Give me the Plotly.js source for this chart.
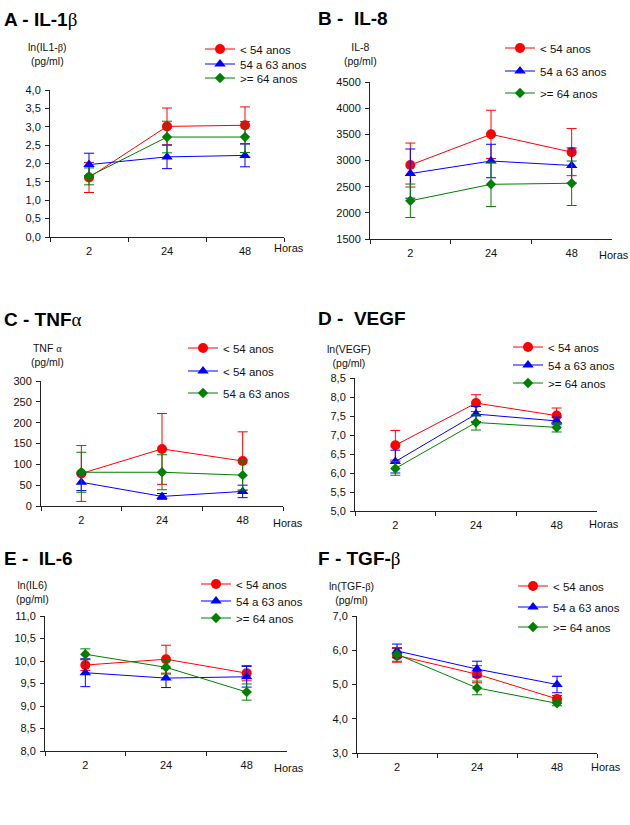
<!DOCTYPE html>
<html><head><meta charset="utf-8">
<script src="https://cdn.plot.ly/plotly-3.0.1.min.js"></script>
<style>html,body{margin:0;padding:0;background:#fff}#chart{width:630px;height:825px}</style>
</head><body><div id="chart"></div>
<script>
// ---------- data ----------
const hours = ['2', '24', '48'];
const groupNames = ['&lt; 54 anos', '54 a 63 anos', '&gt;= 64 anos'];
const groupNamesTNF = ['&lt; 54 anos', '&lt; 54 anos', '54 a 63 anos'];

// A - IL-1β  ln(pg/ml)
const il1b_g1 = [1.62, 3.01, 3.04];
const il1b_g1_err = [0.41, 0.50, 0.50];
const il1b_g2 = [1.97, 2.18, 2.22];
const il1b_g2_err = [0.31, 0.32, 0.31];
const il1b_g3 = [1.65, 2.72, 2.72];
const il1b_g3_err = [0.23, 0.43, 0.42];

// B - IL-8  pg/ml
const il8_g1 = [2913, 3500, 3160];
const il8_g1_err = [420, 460, 450];
const il8_g2 = [2750, 2990, 2905];
const il8_g2_err = [470, 320, 335];
const il8_g3 = [2230, 2545, 2565];
const il8_g3_err = [320, 425, 425];

// C - TNFα  pg/ml
const tnf_g1 = [78, 137, 108];
const tnf_g1_err = [67, 85, 70];
const tnf_g2 = [57, 23, 35];
const tnf_g2_err = [20, 7, 15];
const tnf_g3 = [81, 81, 74];
const tnf_g3_err = [48, 42, 36];

// D - VEGF  ln(pg/ml)
const vegf_g1 = [6.73, 7.84, 7.51];
const vegf_g1_err = [0.39, 0.22, 0.20];
const vegf_g2 = [6.30, 7.55, 7.37];
const vegf_g2_err = [0.30, 0.20, 0.10];
const vegf_g3 = [6.12, 7.33, 7.20];
const vegf_g3_err = [0.18, 0.20, 0.12];

// E - IL-6  ln(pg/ml)
const il6_g1 = [9.91, 10.04, 9.73];
const il6_g1_err = [0.12, 0.31, 0.17];
const il6_g2 = [9.74, 9.62, 9.65];
const il6_g2_err = [0.31, 0.21, 0.23];
const il6_g3 = [10.15, 9.86, 9.31];
const il6_g3_err = [0.12, 0.15, 0.18];

// F - TGF-β  ln(pg/ml)
const tgf_g1 = [5.85, 5.30, 4.58];
const tgf_g1_err = [0.20, 0.25, 0.10];
const tgf_g2 = [5.98, 5.45, 5.00];
const tgf_g2_err = [0.20, 0.23, 0.24];
const tgf_g3 = [5.88, 4.90, 4.45];
const tgf_g3_err = [0.20, 0.20, 0.07];

// ---------- styling / layout ----------
const W = 630, H = 825;
const FONT = 'Liberation Sans, Arial, sans-serif';
const colors = ['#ff0000', '#0000ff', '#008000'];
const symbols = ['circle', 'triangle-up', 'diamond'];
const msizes = [10, 10, 8];
const px = x => x / W;
const py = y => 1 - y / H;
const beta = '<span style="font-family:Liberation Serif;font-weight:normal">β</span>';
const alpha = '<span style="font-family:Liberation Serif;font-weight:normal">α</span>';

const panels = [
  {title: '<b>A - IL-1</b>' + beta, tpos: [2, 19], ylab: 'ln(IL1-' + beta + ')<br>(pg/ml)', ypos: [47, 54.5],
   xd: [50, 284], yd: [90, 237], range: [0, 4], dtick: 0.5, fmt: '.1f', horas: [272, 248],
   series: [[il1b_g1, il1b_g1_err], [il1b_g2, il1b_g2_err], [il1b_g3, il1b_g3_err]], names: groupNames,
   lx: 205, rows: [49, 64, 78]},
  {title: '<b>B -  IL-8</b>', tpos: [316, 18], ylab: 'IL-8<br>(pg/ml)', ypos: [360, 54],
   xd: [370, 612], yd: [82, 239], range: [1500, 4500], dtick: 500, fmt: 'd', horas: [597, 255],
   series: [[il8_g1, il8_g1_err], [il8_g2, il8_g2_err], [il8_g3, il8_g3_err]], names: groupNames,
   lx: 505, rows: [48, 71, 93]},
  {title: '<b>C - TNF</b>' + alpha, tpos: [2, 319], ylab: 'TNF ' + alpha + '<br>(pg/ml)', ypos: [47, 355],
   xd: [41, 283], yd: [381, 506], range: [0, 300], dtick: 50, fmt: 'd', horas: [271, 523],
   series: [[tnf_g1, tnf_g1_err], [tnf_g2, tnf_g2_err], [tnf_g3, tnf_g3_err]], names: groupNamesTNF,
   lx: 188, rows: [348, 371, 393]},
  {title: '<b>D -  VEGF</b>', tpos: [316, 318], ylab: 'ln(VEGF)<br>(pg/ml)', ypos: [349, 356],
   xd: [355, 597], yd: [378, 511], range: [5, 8.5], dtick: 0.5, fmt: '.1f', horas: [587, 524],
   series: [[vegf_g1, vegf_g1_err], [vegf_g2, vegf_g2_err], [vegf_g3, vegf_g3_err]], names: groupNames,
   lx: 513, rows: [347, 365, 383]},
  {title: '<b>E -  IL-6</b>', tpos: [2, 558], ylab: 'ln(IL6)<br>(pg/ml)', ypos: [32, 592],
   xd: [45, 287], yd: [616, 751], range: [8, 11], dtick: 0.5, fmt: '.1f', horas: [272, 768],
   series: [[il6_g1, il6_g1_err], [il6_g2, il6_g2_err], [il6_g3, il6_g3_err]], names: groupNames,
   lx: 201, rows: [584, 601, 618]},
  {title: '<b>F - TGF-</b>' + beta, tpos: [316, 558], ylab: 'ln(TGF-' + beta + ')<br>(pg/ml)', ypos: [351, 593],
   xd: [357, 597], yd: [616, 753], range: [3, 7], dtick: 1, fmt: '.1f', horas: [589, 767],
   series: [[tgf_g1, tgf_g1_err], [tgf_g2, tgf_g2_err], [tgf_g3, tgf_g3_err]], names: groupNames,
   lx: 518, rows: [586, 607, 627]}
];

const traces = [];
const layout = {
  width: W, height: H, margin: {l: 0, r: 0, t: 0, b: 0},
  paper_bgcolor: '#fff', plot_bgcolor: 'rgba(0,0,0,0)',
  font: {family: FONT, size: 11, color: '#111'},
  separators: ', ',
  showlegend: true,
  annotations: []
};

let legIdx = 0;
panels.forEach((p, i) => {
  const n = i + 1;
  const xa = n === 1 ? 'xaxis' : 'xaxis' + n;
  const ya = n === 1 ? 'yaxis' : 'yaxis' + n;
  const xr = n === 1 ? 'x' : 'x' + n;
  const yr = n === 1 ? 'y' : 'y' + n;
  layout[xa] = {
    domain: [px(p.xd[0]), px(p.xd[1])], anchor: yr, type: 'category',
    range: [-0.5, 2.5], tickson: 'boundaries', ticks: 'outside', ticklen: 4,
    ticklabelstandoff: 4,
    tickcolor: '#222', showline: true, linecolor: '#222', linewidth: 1,
    showgrid: false, zeroline: false, tickfont: {size: 11, color: '#111'}, fixedrange: true
  };
  layout[ya] = {
    domain: [py(p.yd[1]), py(p.yd[0])], anchor: xr, range: p.range, dtick: p.dtick,
    tickformat: p.fmt, ticks: 'outside', ticklen: 4, tickcolor: '#222', ticklabelstandoff: 2,
    showline: true, linecolor: '#222', linewidth: 1, showgrid: false, zeroline: false,
    tickfont: {size: 11, color: '#111'}, fixedrange: true
  };
  p.series.forEach((s, k) => {
    legIdx++;
    const lid = legIdx === 1 ? 'legend' : 'legend' + legIdx;
    layout[lid] = {
      x: px(p.lx - 5), y: py(p.rows[k]), xanchor: 'left', yanchor: 'middle',
      bgcolor: 'rgba(0,0,0,0)', borderwidth: 0, font: {size: 11.5, family: FONT, color: '#111'}
    };
    traces.push({
      type: 'scatter', mode: 'lines+markers', x: hours, y: s[0],
      xaxis: xr, yaxis: yr, name: p.names[k], legend: lid,
      line: {color: colors[k], width: 1},
      marker: {color: colors[k], symbol: symbols[k], size: msizes[k]},
      error_y: {type: 'data', array: s[1], visible: true, color: colors[k], thickness: 1, width: 5}
    });
  });
  layout.annotations.push(
    {xref: 'paper', yref: 'paper', x: px(p.tpos[0]), y: py(p.tpos[1]), xanchor: 'left', yanchor: 'middle',
     text: p.title, showarrow: false, font: {size: 19, family: FONT, color: '#000'}},
    {xref: 'paper', yref: 'paper', x: px(p.ypos[0]), y: py(p.ypos[1]), xanchor: 'center', yanchor: 'middle',
     text: p.ylab, showarrow: false, font: {size: 10.5, family: FONT, color: '#111'}},
    {xref: 'paper', yref: 'paper', x: px(p.horas[0]), y: py(p.horas[1]), xanchor: 'left', yanchor: 'middle',
     text: 'Horas', showarrow: false, font: {size: 11, family: FONT, color: '#111'}}
  );
});

Plotly.newPlot('chart', traces, layout, {displayModeBar: false, staticPlot: true});
</script>
</body></html>
